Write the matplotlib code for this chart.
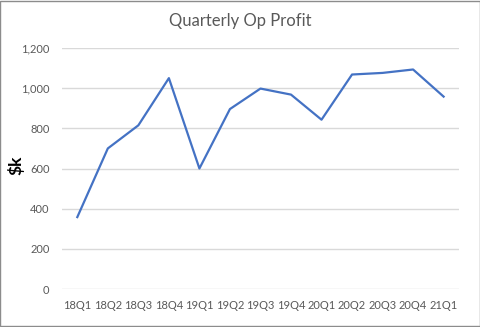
import matplotlib
matplotlib.use("Agg")
import matplotlib.pyplot as plt
from matplotlib.patches import Rectangle
from matplotlib.ticker import FuncFormatter

quarters = ["18Q1", "18Q2", "18Q3", "18Q4", "19Q1", "19Q2", "19Q3",
            "19Q4", "20Q1", "20Q2", "20Q3", "20Q4", "21Q1"]
profit = [358, 700, 815, 1050, 600, 896, 998, 968, 843, 1068, 1076, 1093, 958]
yticks = [0, 200, 400, 600, 800, 1000, 1200]

plt.rcParams['font.family'] = ['Lato', 'DejaVu Sans']
grey = '#595959'

fig = plt.figure(figsize=(4.81, 3.27), dpi=100)
ax = fig.add_axes([0.129, 0.1162, 0.825, 0.737])

ax.plot(range(len(quarters)), profit, color='#4472C4', lw=1.6)

ax.set_xlim(-0.5, len(quarters) - 0.5)
ax.set_ylim(0, 1200)
ax.set_yticks(yticks)
ax.yaxis.set_major_formatter(FuncFormatter(lambda v, p: f"{int(v):,}"))
ax.set_xticks(range(len(quarters)))
ax.set_xticklabels(quarters)
ax.grid(axis='y', color='#d9d9d9', lw=1)
ax.set_axisbelow(True)
for s in ax.spines.values():
    s.set_visible(False)
ax.tick_params(axis='both', length=0, labelsize=8, labelcolor=grey)
ax.tick_params(axis='y', pad=9)
ax.tick_params(axis='x', pad=8)

fig.text(0.033, 0.495, "\\$k", rotation=90, ha='center', va='center',
         fontsize=12.5, fontweight='bold', color='black')
fig.text(0.5, 0.935, "Quarterly Op Profit", ha='center', va='center',
         fontsize=12, color=grey)

fig.patches.append(Rectangle((0.001, 0.002), 0.997, 0.995, transform=fig.transFigure,
                             fill=False, edgecolor='#8c8c8c', lw=1))

fig.savefig("out.png", dpi=100)
